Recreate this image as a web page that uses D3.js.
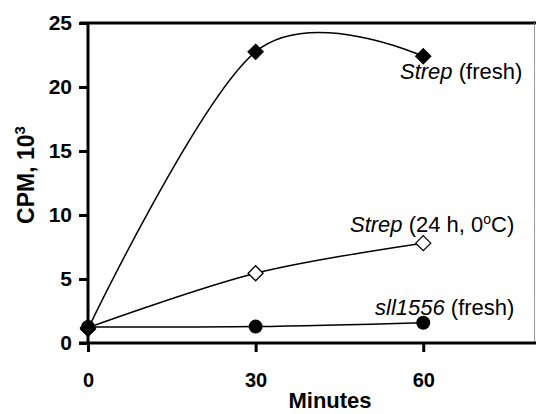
<!DOCTYPE html>
<html>
<head>
<meta charset="utf-8">
<script src="https://cdn.jsdelivr.net/npm/d3@7"></script>
<style>
  body { margin: 0; background: #fff; }
  svg { display: block; font-family: "Liberation Sans", Arial, sans-serif; }
</style>
</head>
<body>
<svg id="svg" width="536" height="414"></svg>
<script>
// data
var minutes = [0, 30, 60];
var strepFresh = [1.1, 22.75, 22.4];
var strep24h = [1.2, 5.45, 7.8];
var sll1556 = [1.25, 1.28, 1.58];
var xTicks = [0, 30, 60];
var yTicks = [0, 5, 10, 15, 20, 25];

var svg = d3.select('#svg');
var margin = { top: 23, right: 1, bottom: 71, left: 88 };
var width = 536, height = 414;

var x = d3.scaleLinear().domain([0, 80]).range([margin.left, width - margin.right]);
var y = d3.scaleLinear().domain([0, 25]).range([height - margin.bottom, margin.top]);

// frame: thick top, thin grey right
svg.append('line')
  .attr('x1', x(0) - 8).attr('x2', width)
  .attr('y1', y(25)).attr('y2', y(25))
  .style('stroke', '#000').style('stroke-width', 3);
svg.append('line')
  .attr('x1', x(80) - 0.5).attr('x2', x(80) - 0.5)
  .attr('y1', y(25)).attr('y2', y(0))
  .style('stroke', '#999').style('stroke-width', 1);

// y axis
var yAxis = svg.append('g')
  .attr('transform', 'translate(' + x(0) + ',0)')
  .call(d3.axisLeft(y).tickValues(yTicks).tickSize(9).tickPadding(7));
// x axis
var xAxis = svg.append('g')
  .attr('transform', 'translate(0,' + y(0) + ')')
  .call(d3.axisBottom(x).tickValues(xTicks).tickSize(9).tickPadding(21));

[yAxis, xAxis].forEach(function(a) {
  a.select('.domain').remove();
  a.selectAll('line').style('stroke', '#000').style('stroke-width', 3);
  a.selectAll('text')
    .style('font-size', '20px')
    .style('font-weight', 'bold')
    .style('fill', '#000');
});
yAxis.selectAll('text').style('font-size', '21px');
svg.append('line')
  .attr('x1', x(0)).attr('x2', x(0))
  .attr('y1', y(25)).attr('y2', y(0))
  .style('stroke', '#000').style('stroke-width', 3);
svg.append('line')
  .attr('x1', x(0) - 9).attr('x2', width)
  .attr('y1', y(0)).attr('y2', y(0))
  .style('stroke', '#000').style('stroke-width', 3);

// series
var line = d3.line()
  .x(function(d) { return x(d[0]); })
  .y(function(d) { return y(d[1]); })
  .curve(d3.curveCardinal.tension(0));

var series = [
  { vals: strepFresh, shape: 'diamond', fill: '#000' },
  { vals: strep24h, shape: 'diamond', fill: '#fff' },
  { vals: sll1556, shape: 'circle', fill: '#000' }
];

series.forEach(function(s) {
  var pts = minutes.map(function(m, i) { return [m, s.vals[i]]; });
  svg.append('path')
    .attr('d', line(pts))
    .style('fill', 'none')
    .style('stroke', '#000')
    .style('stroke-width', 1.5);
});

var diamond = 'M0,-7.5L7.5,0L0,7.5L-7.5,0Z';
series.forEach(function(s) {
  var pts = minutes.map(function(m, i) { return [m, s.vals[i]]; });
  var g = svg.append('g');
  pts.forEach(function(p) {
    if (s.shape === 'diamond') {
      g.append('path')
        .attr('d', diamond)
        .attr('transform', 'translate(' + x(p[0]) + ',' + y(p[1]) + ')')
        .style('fill', s.fill)
        .style('stroke', '#000')
        .style('stroke-width', 1.3);
    } else {
      g.append('circle')
        .attr('cx', x(p[0])).attr('cy', y(p[1]))
        .attr('r', 7)
        .style('fill', s.fill);
    }
  });
});

// series labels
function label(xp, yp, it) {
  var t = svg.append('text')
    .attr('x', xp).attr('y', yp)
    .style('font-size', '22px')
    .style('fill', '#000');
  t.append('tspan').style('font-style', 'italic').text(it);
  return t;
}
label(400, 79, 'Strep').append('tspan').text(' (fresh)');
var t2 = label(350, 232, 'Strep');
t2.append('tspan').text(' (24 h, 0');
t2.append('tspan').attr('dy', -8).style('font-size', '14px').text('o');
t2.append('tspan').attr('dy', 8).text('C)');
label(375, 315, 'sll1556').append('tspan').text(' (fresh)');

// axis titles
svg.append('text')
  .attr('x', 330).attr('y', 408)
  .attr('text-anchor', 'middle')
  .style('font-size', '22px')
  .style('font-weight', 'bold')
  .text('Minutes');

var yt = svg.append('text')
  .attr('transform', 'translate(34,' + 175 + ') rotate(-90)')
  .attr('text-anchor', 'middle')
  .style('font-size', '23px')
  .style('font-weight', 'bold');
yt.append('tspan').text('CPM, 10');
yt.append('tspan').attr('dy', -9).style('font-size', '15px').text('3');
</script>
</body>
</html>
